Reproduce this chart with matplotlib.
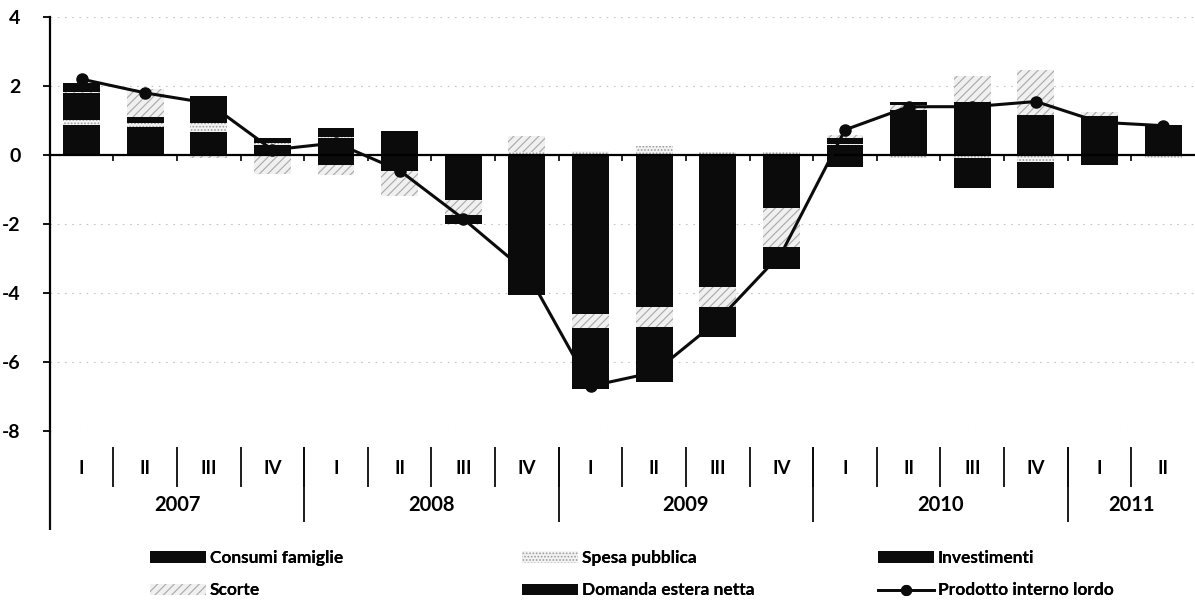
import matplotlib
matplotlib.use('Agg')
import matplotlib.pyplot as plt
import numpy as np
from matplotlib.lines import Line2D
from matplotlib.patches import Patch

plt.rcParams['font.family'] = ['Lato', 'DejaVu Sans']
plt.rcParams['hatch.linewidth'] = 0.8

# ---------------- data ----------------
quarters = ['I', 'II', 'III', 'IV'] * 4 + ['I', 'II']
years = ['2007', '2008', '2009', '2010', '2011']
year_len = [4, 4, 4, 4, 2]

consumi = [0.87, 0.82, 0.68, 0.30, 0.50, -0.20, -0.60, -1.30, -1.90, -1.80, -1.60, -0.70, 0.30, 0.60, 0.70, 0.50, 0.45, 0.30]
spesa   = [0.15, 0.10, 0.24, 0.05, 0.03, 0.00, 0.00, 0.10, 0.12, 0.25, 0.10, 0.10, 0.02, -0.10, -0.10, -0.19, 0.00, -0.10]
invest  = [0.77, 0.18, 0.78, 0.13, -0.29, -0.25, -0.71, -2.00, -2.70, -2.61, -2.23, -0.85, 0.16, 0.70, 0.85, 0.66, 0.68, 0.45]
scorte  = [0.05, 0.80, -0.10, -0.55, -0.30, -0.75, -0.43, 0.45, -0.40, -0.58, -0.58, -1.12, 0.10, 0.15, 0.73, 1.30, 0.13, 0.00]
domanda = [0.25, 0.00, 0.00, 0.00, 0.25, 0.70, -0.25, -0.77, -1.78, -1.60, -0.87, -0.63, -0.34, 0.10, -0.87, -0.78, -0.30, 0.12]
pil     = [2.2, 1.8, 1.5, 0.15, 0.35, -0.45, -1.85, -3.4, -6.7, -6.3, -4.8, -2.85, 0.73, 1.4, 1.4, 1.55, 0.95, 0.85]

series_names = ['Consumi famiglie', 'Spesa pubblica', 'Investimenti', 'Scorte', 'Domanda estera netta']
series_vals = [consumi, spesa, invest, scorte, domanda]
BLACK = '#0b0b0b'
styles = [
    dict(facecolor=BLACK, edgecolor=BLACK, hatch=None),
    dict(facecolor='#f3f3f3', edgecolor='#9a9a9a', hatch='.....'),
    dict(facecolor=BLACK, edgecolor=BLACK, hatch=None),
    dict(facecolor='#f0f0f0', edgecolor='#a8a8a8', hatch='////'),
    dict(facecolor=BLACK, edgecolor=BLACK, hatch=None),
]

# ---------------- figure ----------------
fig = plt.figure(figsize=(11.95, 6.09), dpi=100)
ax = fig.add_axes([49.7 / 1195, (609 - 431) / 609, (1195 - 49.7) / 1195, (431 - 17) / 609])

n = len(quarters)
x = np.arange(n)
pos_base = np.zeros(n)
neg_base = np.zeros(n)
bw = 0.58
for vals, st in zip(series_vals, styles):
    v = np.array(vals)
    bottom = np.where(v >= 0, pos_base, neg_base)
    ax.bar(x, v, bottom=bottom, width=bw, facecolor=st['facecolor'],
           edgecolor=st['edgecolor'], hatch=st['hatch'], linewidth=0, zorder=2)
    pos_base = pos_base + np.where(v >= 0, v, 0)
    neg_base = neg_base + np.where(v < 0, v, 0)

ax.plot(x, pil, color=BLACK, lw=2.2, marker='o', markersize=8, zorder=4)

ax.set_xlim(-0.5, n - 0.5)
ax.set_ylim(-8, 4)
ax.set_yticks(np.arange(-8, 5, 2))
ax.set_yticklabels([str(v) for v in np.arange(-8, 5, 2)], fontsize=14, fontweight='bold')
ax.tick_params(axis='y', direction='out', length=5, width=1.3, pad=16)

# gridlines (faint dotted)
for yv in np.arange(-8, 5, 2):
    if yv != 0:
        ax.axhline(yv, color='#c4c4c4', lw=0.8, ls=(0, (1.5, 5)), zorder=1)

for s in ['top', 'right']:
    ax.spines[s].set_visible(False)
ax.spines['left'].set_linewidth(1.6)
ax.spines['bottom'].set_position(('data', 0))
ax.spines['bottom'].set_linewidth(1.6)
ax.spines['bottom'].set_zorder(3)

bounds = np.arange(n + 1) - 0.5
ax.set_xticks(bounds[1:-1])
ax.set_xticklabels([])
ax.tick_params(axis='x', direction='out', length=4, width=1.2)

# multi-level category labels
trans = ax.get_xaxis_transform()
for i, q in enumerate(quarters):
    ax.text(i, -0.09, q, transform=trans, ha='center', va='center', fontsize=13.5,
            fontweight='bold', clip_on=False)
ax.vlines(bounds[1:-1], -0.038, -0.135, transform=trans, color=BLACK, lw=1.3, clip_on=False)
start = 0
year_bounds = [-0.5]
for yname, ln in zip(years, year_len):
    ax.text(start + (ln - 1) / 2, -0.179, yname, transform=trans, ha='center', va='center',
            fontsize=14.5, fontweight='bold', clip_on=False)
    start += ln
    year_bounds.append(start - 0.5)
ax.vlines(year_bounds[1:-1], -0.038, -0.22, transform=trans, color=BLACK, lw=1.3, clip_on=False)
ax.vlines([year_bounds[0]], -0.24, 0, transform=trans, color=BLACK, lw=1.6, clip_on=False)

# legends
def patch(st):
    return Patch(facecolor=st['facecolor'], edgecolor=st['edgecolor'], hatch=st['hatch'], linewidth=0)

line_handle = Line2D([0], [0], color=BLACK, lw=2, marker='o', markersize=7)
cols = [
    ([patch(styles[0]), patch(styles[3])], [series_names[0], series_names[3]], 150),
    ([patch(styles[1]), patch(styles[4])], [series_names[1], series_names[4]], 522),
    ([patch(styles[2]), line_handle], [series_names[2], 'Prodotto interno lordo'], 878),
]
for handles, labels, xpx in cols:
    leg = fig.legend(handles, labels, loc='upper left', bbox_to_anchor=(xpx / 1195, 1 - 550 / 609),
                     frameon=False, prop={'size': 12.5, 'weight': 'bold'}, handlelength=3.2,
                     handleheight=0.62, handletextpad=0.25, labelspacing=0.95, borderpad=0,
                     borderaxespad=0)
    fig.add_artist(leg)

fig.savefig('out.png', dpi=100)
